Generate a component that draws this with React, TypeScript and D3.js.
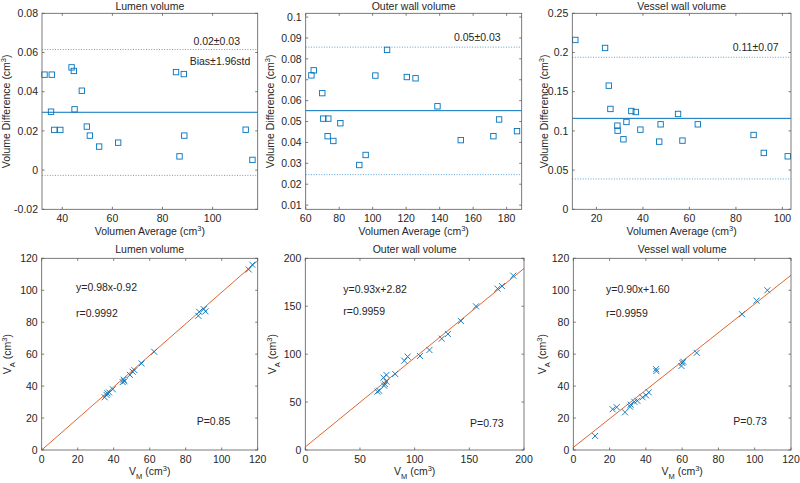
import React from 'react';
import * as d3 from 'd3';

// ---------- DATA ----------
// Bland-Altman: lumen
const luAvg = [32.9, 35.8, 35.5, 36.8, 39.2, 43.7, 44.6, 44.9, 47.8, 49.8, 51.0, 54.7, 62.3, 85.4, 86.8, 88.5, 88.7, 113.2, 115.9];
const luDiff = [0.0487, 0.0487, 0.0298, 0.0205, 0.0205, 0.0524, 0.0506, 0.031, 0.0405, 0.0222, 0.0176, 0.012, 0.014, 0.050, 0.007, 0.049, 0.0176, 0.0206, 0.0052];
const luLimits = [0.0295, -0.0027, 0.0615]; // mean, lower, upper
// Bland-Altman: outer wall
const owAvg = [63.4, 64.8, 69.9, 70.5, 73.5, 73.1, 76.5, 80.7, 92.0, 95.8, 101.6, 108.6, 120.4, 125.6, 138.7, 152.6, 172.1, 175.5, 186.2];
const owDiff = [0.0721, 0.0745, 0.0636, 0.0514, 0.0514, 0.0430, 0.0407, 0.0492, 0.0292, 0.0340, 0.0720, 0.0843, 0.0713, 0.0707, 0.0573, 0.0411, 0.0430, 0.0510, 0.0454];
const owLimits = [0.0552, 0.0246, 0.0856];
// Bland-Altman: vessel wall
const vwAvg = [10.9, 23.7, 25.3, 26.0, 29.0, 29.1, 31.6, 32.9, 35.0, 36.9, 38.9, 47.0, 47.6, 55.1, 57.0, 63.6, 87.6, 92.0, 102.3];
const vwDiff = [0.216, 0.2058, 0.1577, 0.128, 0.1067, 0.1003, 0.0893, 0.1114, 0.1254, 0.1241, 0.1016, 0.0863, 0.1084, 0.1216, 0.0876, 0.1084, 0.0948, 0.0719, 0.0676];
const vwLimits = [0.116, 0.0387, 0.1939];

// Correlation: lumen
const luVM = [35, 36, 36.5, 37.5, 39.5, 45, 45.5, 46, 49, 50.5, 51.5, 55.5, 62.5, 87, 87.5, 90, 91, 115, 117];
const luVA = [33, 34.5, 35.5, 36, 38, 42.5, 44, 43, 47, 49, 50, 54.2, 61.5, 84, 86.5, 88.2, 86.8, 113, 116];
const luFit = [0, 118.5]; // line value at x-domain start / end
// Correlation: outer wall
const owVM = [65.9, 67.5, 71.5, 72.1, 72.7, 74.2, 74.2, 82.2, 90.5, 93.6, 104.9, 113.5, 124.8, 130.4, 142.3, 156.1, 175.8, 179.8, 190.2];
const owVA = [60.9, 61.9, 75.5, 67.1, 68.9, 78.3, 71.3, 79.3, 93.2, 97.4, 98.1, 104.3, 116.2, 121.0, 134.6, 149.9, 168.3, 171.1, 181.9];
const owFit = [3.2, 189.4];
// Correlation: vessel wall
const vwVM = [12.0, 21.7, 23.9, 28.5, 31.3, 31.6, 33.6, 35.3, 38.2, 40.1, 41.6, 45.6, 45.8, 59.6, 60.1, 60.6, 68.0, 93.0, 101.0, 107.0];
const vwVA = [8.8, 25.5, 26.8, 23.6, 27.1, 28.4, 30.2, 30.8, 33, 34.2, 36.1, 50.6, 49.4, 52.6, 54.5, 55.3, 60.8, 85, 93.5, 100];
const vwFit = [1.6, 109.4];

// Ticks
const luBAxTicks = [40, 60, 80, 100];
const luBAyTicks = [-0.02, 0, 0.02, 0.04, 0.06, 0.08];
const owBAxTicks = [60, 80, 100, 120, 140, 160, 180];
const owBAyTicks = [0.01, 0.02, 0.03, 0.04, 0.05, 0.06, 0.07, 0.08, 0.09, 0.1];
const vwBAxTicks = [20, 40, 60, 80, 100];
const vwBAyTicks = [0, 0.05, 0.1, 0.15, 0.2, 0.25];
const lu120Ticks = [0, 20, 40, 60, 80, 100, 120];
const ow200Ticks = [0, 50, 100, 150, 200];

const titles = ['Lumen volume', 'Outer wall volume', 'Vessel wall volume'];
const baNotes = ['0.02\u00b10.03', '0.05\u00b10.03', '0.11\u00b10.07'];
const eqNotes = ['y=0.98x-0.92', 'y=0.93x+2.82', 'y=0.90x+1.60'];
const rNotes = ['r=0.9992', 'r=0.9959', 'r=0.9959'];
const pNotes = ['P=0.85', 'P=0.73', 'P=0.73'];

// ---------- STYLE ----------
const FONT = "'Liberation Sans', Arial, Helvetica, sans-serif";
const TXT = '#262626';
const AX = '#5a5a5a';
const BLUE = '#0072BD';
const DOT = '#4a98d4';
const RED = '#D95319';
const FS = 10.5;

const fmt = (v: number) => String(+v.toFixed(3));

type Geo = { x0: number; x1: number; y0: number; y1: number };

function Frame({ g, xs, ys, xTicks, yTicks }: any) {
  const tl = 2.5;
  return (
    <g>
      <rect x={g.x0} y={g.y0} width={g.x1 - g.x0} height={g.y1 - g.y0} fill="none" stroke={AX} strokeWidth={0.8} />
      {xTicks.map((t: number) => (
        <g key={'x' + t}>
          <line x1={xs(t)} x2={xs(t)} y1={g.y1} y2={g.y1 - tl} stroke={AX} strokeWidth={0.8} />
          <line x1={xs(t)} x2={xs(t)} y1={g.y0} y2={g.y0 + tl} stroke={AX} strokeWidth={0.8} />
          <text x={xs(t)} y={g.y1 + 12.5} textAnchor="middle" fontSize={FS} fill={TXT}>{fmt(t)}</text>
        </g>
      ))}
      {yTicks.map((t: number) => (
        <g key={'y' + t}>
          <line x1={g.x0} x2={g.x0 + tl} y1={ys(t)} y2={ys(t)} stroke={AX} strokeWidth={0.8} />
          <line x1={g.x1} x2={g.x1 - tl} y1={ys(t)} y2={ys(t)} stroke={AX} strokeWidth={0.8} />
          <text x={g.x0 - 4} y={ys(t) + 3.7} textAnchor="end" fontSize={FS} fill={TXT}>{fmt(t)}</text>
        </g>
      ))}
    </g>
  );
}

function BAPanel({ g, xd, yd, avg, diff, lim, xTicks, yTicks, title, note, notePos, bias, yLabX }: any) {
  const xs = d3.scaleLinear().domain(xd).range([g.x0, g.x1]);
  const ys = d3.scaleLinear().domain(yd).range([g.y1, g.y0]);
  const cx = (g.x0 + g.x1) / 2;
  const cy = (g.y0 + g.y1) / 2;
  const s = 5.4;
  return (
    <g>
      <text x={cx} y={10.2} textAnchor="middle" fontSize={FS} fill={TXT}>{title}</text>
      <line x1={g.x0} x2={g.x1} y1={ys(lim[0])} y2={ys(lim[0])} stroke={BLUE} strokeWidth={1} />
      <line x1={g.x0} x2={g.x1} y1={ys(lim[1])} y2={ys(lim[1])} stroke={DOT} strokeWidth={0.9} strokeDasharray="1 1.6" />
      <line x1={g.x0} x2={g.x1} y1={ys(lim[2])} y2={ys(lim[2])} stroke={DOT} strokeWidth={0.9} strokeDasharray="1 1.6" />
      {avg.map((a: number, i: number) => (
        <rect key={i} x={xs(a) - s / 2} y={ys(diff[i]) - s / 2} width={s} height={s} fill="none" stroke={BLUE} strokeWidth={0.9} />
      ))}
      <Frame g={g} xs={xs} ys={ys} xTicks={xTicks} yTicks={yTicks} />
      <text x={notePos[0]} y={notePos[1]} textAnchor="middle" fontSize={FS} fill={TXT}>{note}</text>
      {bias && (
        <text x={bias[0]} y={bias[1]} textAnchor="middle" fontSize={FS} fill={TXT}>Bias{'\u00b1'}1.96std</text>
      )}
      <text x={cx} y={g.y1 + 25.5} textAnchor="middle" fontSize={FS} fill={TXT}>
        Volumen Average (cm<tspan dy={-4} fontSize={7.5}>3</tspan><tspan dy={4}>)</tspan>
      </text>
      <text transform={`translate(${yLabX + 3},${cy}) rotate(-90)`} textAnchor="middle" fontSize={FS} fill={TXT}>
        Volume Difference (cm<tspan dy={-4} fontSize={7.5}>3</tspan><tspan dy={4}>)</tspan>
      </text>
    </g>
  );
}

function CorrPanel({ g, xd, vm, va, fit, ticks, title, eq, r, p, eqX, eqY, rY, pX, pY, yLabX }: any) {
  const xs = d3.scaleLinear().domain(xd).range([g.x0, g.x1]);
  const ys = d3.scaleLinear().domain(xd).range([g.y1, g.y0]);
  const cx = (g.x0 + g.x1) / 2;
  const cy = (g.y0 + g.y1) / 2;
  const h = 3;
  const line = d3.line<number>().x((_, i) => xs(xd[i])).y((v) => ys(v));
  return (
    <g>
      <text x={cx} y={g.y0 - 5} textAnchor="middle" fontSize={FS} fill={TXT}>{title}</text>
      <path d={line(fit) || ''} stroke={RED} strokeWidth={0.9} fill="none" />
      {vm.map((v: number, i: number) => (
        <g key={i} stroke={BLUE} strokeWidth={0.9}>
          <line x1={xs(v) - h} x2={xs(v) + h} y1={ys(va[i]) - h} y2={ys(va[i]) + h} />
          <line x1={xs(v) - h} x2={xs(v) + h} y1={ys(va[i]) + h} y2={ys(va[i]) - h} />
        </g>
      ))}
      <Frame g={g} xs={xs} ys={ys} xTicks={ticks} yTicks={ticks} />
      <text x={eqX} y={eqY} fontSize={FS} fill={TXT}>{eq}</text>
      <text x={eqX} y={rY} fontSize={FS} fill={TXT}>{r}</text>
      <text x={pX} y={pY} fontSize={FS} fill={TXT}>{p}</text>
      <text x={cx} y={g.y1 + 25} textAnchor="middle" fontSize={FS} fill={TXT}>
        V<tspan dy={3.5} fontSize={7.5}>M</tspan><tspan dy={-3.5}> (cm</tspan><tspan dy={-4} fontSize={7.5}>3</tspan><tspan dy={4}>)</tspan>
      </text>
      <text transform={`translate(${yLabX + 3},${cy}) rotate(-90)`} textAnchor="middle" fontSize={FS} fill={TXT}>
        V<tspan dy={3.5} fontSize={7.5}>A</tspan><tspan dy={-3.5}> (cm</tspan><tspan dy={-4} fontSize={7.5}>3</tspan><tspan dy={4}>)</tspan>
      </text>
    </g>
  );
}

export default function App() {
  const tY0 = 13.3, tY1 = 209.3, bY0 = 258.3, bY1 = 450;
  const g1: Geo = { x0: 42, x1: 257.7, y0: tY0, y1: tY1 };
  const g2: Geo = { x0: 305.7, x1: 521.7, y0: tY0, y1: tY1 };
  const g3: Geo = { x0: 572.3, x1: 791, y0: tY0, y1: tY1 };
  const g4: Geo = { x0: 41.7, x1: 257.7, y0: bY0, y1: bY1 };
  const g5: Geo = { x0: 305.3, x1: 524, y0: bY0, y1: bY1 };
  const g6: Geo = { x0: 573.3, x1: 791, y0: bY0, y1: bY1 };
  return (
    <svg width={800} height={483} style={{ position: 'absolute', left: 0, top: 0, background: '#fff' }} fontFamily={FONT}>
      <rect width={800} height={483} fill="#fff" />
      <BAPanel g={g1} xd={[31.9, 118]} yd={[-0.02, 0.08]} avg={luAvg} diff={luDiff} lim={luLimits}
        xTicks={luBAxTicks} yTicks={luBAyTicks} title={titles[0]} note={baNotes[0]} notePos={[216.7, 45.4]} bias={[220, 64.7]} yLabX={7} />
      <BAPanel g={g2} xd={[60, 189]} yd={[0.008, 0.1018]} avg={owAvg} diff={owDiff} lim={owLimits}
        xTicks={owBAxTicks} yTicks={owBAyTicks} title={titles[1]} note={baNotes[1]} notePos={[477.3, 41.4]} yLabX={271} />
      <BAPanel g={g3} xd={[9.6, 103.7]} yd={[0, 0.25]} avg={vwAvg} diff={vwDiff} lim={vwLimits}
        xTicks={vwBAxTicks} yTicks={vwBAyTicks} title={titles[2]} note={baNotes[2]} notePos={[755.7, 51.4]} yLabX={544.5} />
      <CorrPanel g={g4} xd={[0, 120]} vm={luVM} va={luVA} fit={luFit} ticks={lu120Ticks} title={titles[0]}
        eq={eqNotes[0]} r={rNotes[0]} p={pNotes[0]} eqX={76} eqY={291} rY={317} pX={196.7} pY={425.4} yLabX={8} />
      <CorrPanel g={g5} xd={[0, 200]} vm={owVM} va={owVA} fit={owFit} ticks={ow200Ticks} title={titles[1]}
        eq={eqNotes[1]} r={rNotes[1]} p={pNotes[1]} eqX={343.3} eqY={293} rY={315.4} pX={470} pY={427} yLabX={273} />
      <CorrPanel g={g6} xd={[0, 120]} vm={vwVM} va={vwVA} fit={vwFit} ticks={lu120Ticks} title={titles[2]}
        eq={eqNotes[2]} r={rNotes[2]} p={pNotes[2]} eqX={606} eqY={293} rY={317} pX={733.3} pY={425.4} yLabX={543} />
    </svg>
  );
}
